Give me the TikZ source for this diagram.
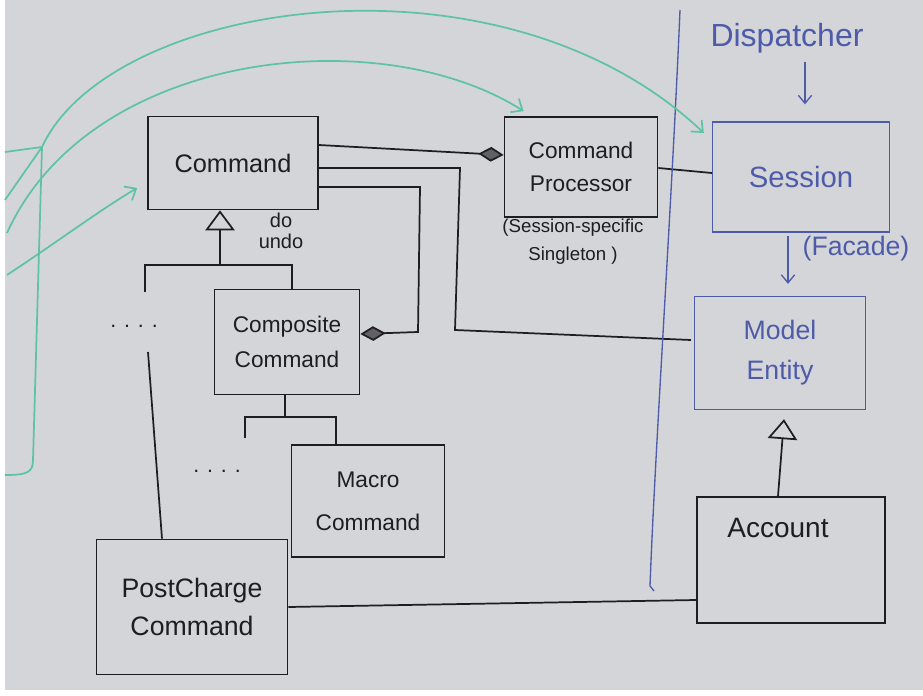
\documentclass[tikz,border=0pt]{standalone}
\usepackage{fontspec}
\setmainfont{Liberation Sans}
\usetikzlibrary{arrows.meta,calc}
\definecolor{board}{HTML}{D4D5D9}
\definecolor{ink}{HTML}{1E1E22}
\definecolor{bink}{HTML}{4D5BA8}
\definecolor{tealink}{HTML}{5EC2A9}
\begin{document}
\begin{tikzpicture}[x=0.75pt,y=-0.75pt,
  box/.style={draw=ink, line width=1.3pt, inner sep=0pt, align=center, text=ink},
  bbox/.style={draw=bink, line width=1pt, inner sep=0pt, align=center, text=bink},
  wire/.style={draw=ink, line width=1.3pt},
  bwire/.style={draw=bink, line width=1pt},
  twire/.style={draw=tealink, line width=1.3pt},
  tarrow/.style={-{Straight Barb[length=7pt,width=12pt]}},
  barrow/.style={-{Straight Barb[length=6pt,width=10pt]}},
  agg/.style={-{Diamond[length=19pt,width=11pt,fill=ink!70]}},
  gen/.style={-{Triangle[open,length=15pt,width=22pt]}},
  blabel/.style={text=ink, inner sep=1pt, align=center},
  bluelabel/.style={text=bink, inner sep=1pt, align=center},
]
\fill[white] (0,0) rectangle (923,695);
\fill[board] (5,0) rectangle (923,690);
\useasboundingbox (0,0) rectangle (923,695);

% black boxes
\node[box, minimum width=127.5pt, minimum height=69.75pt, font=\fontsize{19}{22}\selectfont] (cmd) at (233,163) {Command};
\node[box, minimum width=114.75pt, minimum height=75pt, font=\fontsize{17}{25}\selectfont] (proc) at (581,167) {Command\\Processor};
\node[box, minimum width=108.75pt, minimum height=78.75pt, font=\fontsize{17}{26}\selectfont] (comp) at (287,342) {Composite\\Command};
\node[box, minimum width=114.75pt, minimum height=84pt, font=\fontsize{17}{32}\selectfont] (macro) at (368,501) {Macro\\Command};
\node[box, minimum width=143.25pt, minimum height=101.25pt, font=\fontsize{20}{28}\selectfont] (post) at (192,607) {PostCharge\\Command};
\node[box, minimum width=141pt, minimum height=94.5pt] (acct) at (791,560) {};
\node[blabel, font=\fontsize{21}{24}\selectfont] (acctlbl) at (778,528) {Account};

% blue boxes
\node[bbox, minimum width=132.75pt, minimum height=82.5pt, font=\fontsize{22}{26}\selectfont] (sess) at (801,177) {Session};
\node[bbox, minimum width=128.25pt, minimum height=84.75pt, font=\fontsize{20}{30}\selectfont] (model) at (780,353) {Model\\Entity};

% labels
\node[blabel, font=\fontsize{14}{21}\selectfont] (caption) at (573,242) {(Session-specific\\Singleton )};
\node[blabel, font=\fontsize{15}{16}\selectfont] (doundo) at (281,231) {do\\undo};
\node[blabel, font=\fontsize{16}{16}\selectfont] (dots1) at (134,326) {. . . .};
\node[blabel, font=\fontsize{16}{16}\selectfont] (dots2) at (217,471) {. . . .};
\node[bluelabel, font=\fontsize{24}{26}\selectfont] (disp) at (787,38) {Dispatcher};
\node[bluelabel, font=\fontsize{20}{22}\selectfont] (facade) at (856,249) {(Facade)};

% aggregations
\draw[wire, agg] ($(cmd.east)+(0,-18)$) -- ($(proc.west)+(0,-12)$);
\draw[wire, agg] ($(cmd.east)+(0,24)$) -- (420,187) -- (418,332) -- ($(comp.east)+(0,-8)$);
\draw[wire] ($(cmd.east)+(0,5)$) -- (460,168) -- (455,330) -- ($(model.west)+(-3,-13)$);

% generalization to Command
\coordinate (g1) at (220,265);
\coordinate (lb) at (145,292);
\coordinate (pc) at (148,352);
\draw[wire, gen] (g1) -- (cmd.south -| g1);
\draw[wire] (lb) -- (145,265) -- (292,265) -- ($(comp.north)+(5,0)$);
\draw[wire] (pc) -- ($(post.north)+(-30,0)$);

% generalization to Composite
\coordinate (lb2) at (245,438);
\draw[wire] ($(comp.south)+(-2,0)$) -- (285,417);
\draw[wire] (lb2) -- (245,417) -- (336,417) -- ($(macro.north)+(-32,0)$);

% other black connectors
\draw[wire] ($(proc.east)+(0,1)$) -- ($(sess.west)+(0,-4)$);
\draw[wire] (post.east) -- ($(acct.west)+(0,40)$);
\draw[wire, gen] ($(acct.north)+(-13,0)$) -- ($(model.south)+(4,9)$);

% blue divider and arrows
\draw[bwire] (680,10) .. controls (672,200) and (655,450) .. (650,586) -- (654,591);
\coordinate (da) at (805,62);
\draw[bwire, barrow] (da) -- ($(sess.north)+(4,-17)$);
\draw[bwire, barrow] ($(sess.south)+(-13,3)$) -- ($(model.north)+(8,-12)$);

% teal lines
\coordinate (t1) at (5,200);
\coordinate (tj) at (42,147);
\coordinate (t2) at (7,233);
\coordinate (t3) at (7,275);
\draw[twire, tarrow] (t1) -- (tj) .. controls (110,0) and (500,-60) .. ($(sess.west)+(-8,-44)$);
\draw[twire, tarrow] (t2) .. controls (90,50) and (380,20) .. ($(proc.north west)+(20,-5)$);
\draw[twire, tarrow] (t3) .. controls (60,240) and (100,210) .. ($(cmd.west)+(-10,25)$);
\draw[twire] (5,152) -- (tj) -- (33,460) .. controls (33,472) and (28,475) .. (5,475);
\end{tikzpicture}
\end{document}
